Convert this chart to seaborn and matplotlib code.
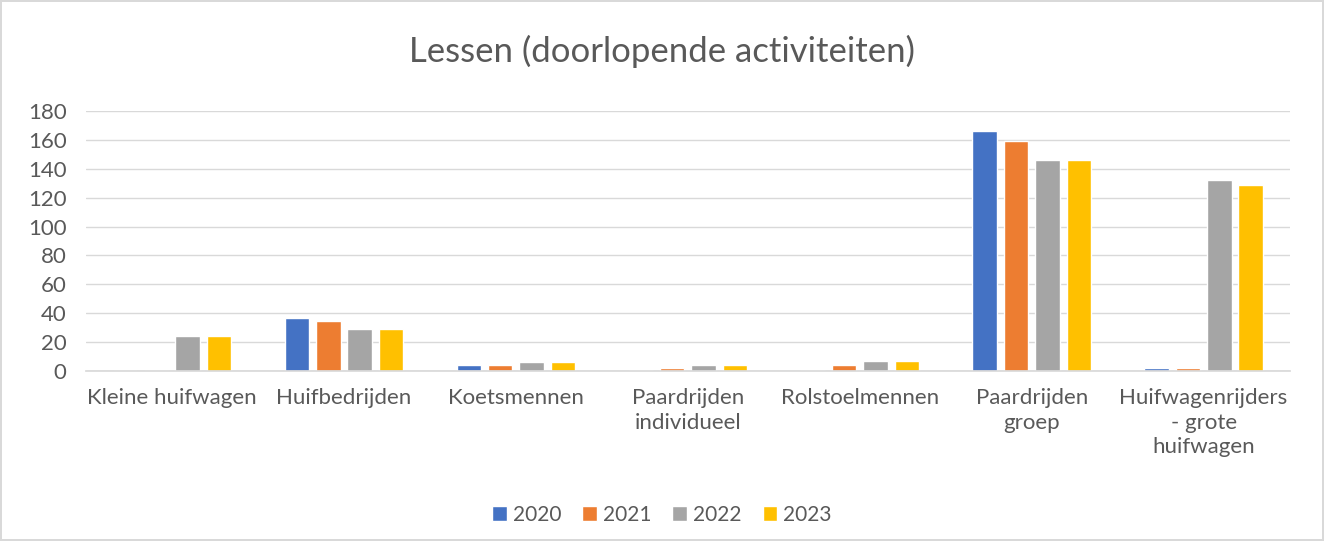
import seaborn as sns
import matplotlib.pyplot as plt
import pandas as pd

# data
categories = ['Kleine huifwagen', 'Huifbedrijden', 'Koetsmennen',
              'Paardrijden\nindividueel', 'Rolstoelmennen',
              'Paardrijden\ngroep', 'Huifwagenrijders\n- grote\nhuifwagen']
years = ['2020', '2021', '2022', '2023']
v2020 = [0, 37, 4, 1, 1, 166, 2]
v2021 = [0, 35, 4, 2, 4, 159, 2]
v2022 = [24, 29, 6, 4, 7, 146, 132]
v2023 = [24, 29, 6, 4, 7, 146, 129]
colors = ['#4472C4', '#ED7D31', '#A5A5A5', '#FFC000']

rows = []
for year, vals in zip(years, [v2020, v2021, v2022, v2023]):
    for cat, v in zip(categories, vals):
        rows.append({'categorie': cat, 'jaar': year, 'aantal': v})
df = pd.DataFrame(rows)

sns.set_theme(style='white')
plt.rcParams['font.family'] = ['Lato', 'DejaVu Sans']
text_col = '#595959'

fig = plt.figure(figsize=(13.24, 5.41), dpi=100)
fig.patch.set_edgecolor('#D9D9D9')
fig.patch.set_linewidth(1.5)
ax = fig.add_axes([0.065, 0.314, 0.909, 0.481])

sns.barplot(data=df, x='categorie', y='aantal', hue='jaar', palette=colors,
            width=0.73, gap=0.22, ax=ax, legend=True, saturation=1)

ax.set_ylim(0, 180)
ax.set_yticks(range(0, 181, 20))
ax.yaxis.grid(True, color='#D9D9D9', linewidth=1)
ax.set_axisbelow(True)
for s in ['top', 'right', 'left']:
    ax.spines[s].set_visible(False)
ax.spines['bottom'].set_color('#D9D9D9')
ax.tick_params(axis='both', length=0, labelsize=16, colors=text_col)
ax.tick_params(axis='y', pad=14)
ax.tick_params(axis='x', pad=12)
for lbl in ax.get_xticklabels():
    lbl.set_linespacing(1.3)
ax.set_xlabel('')
ax.set_ylabel('')

fig.suptitle('Lessen (doorlopende activiteiten)', fontsize=25, color=text_col, y=0.935)

handles, labels = ax.get_legend_handles_labels()
ax.get_legend().remove()
fig.legend(handles, labels, loc='center', bbox_to_anchor=(0.5, 0.048), ncol=4,
           frameon=False, fontsize=15, handlelength=0.7, handleheight=0.7,
           handletextpad=0.3, columnspacing=1.0, labelcolor=text_col)

fig.savefig('out.png', dpi=100)
